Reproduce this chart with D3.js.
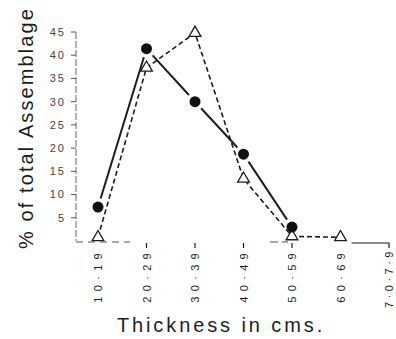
<!DOCTYPE html>
<html>
<head>
<meta charset="utf-8">
<script src="https://cdn.jsdelivr.net/npm/d3@7"></script>
<style>
  body { margin: 0; background: #fff; }
  text { font-family: "Liberation Sans", Arial, sans-serif; fill: #1b1f1b; }
</style>
</head>
<body>
<div id="chart"></div>
<script>
// thickness classes (cms)
const categories = ['10·19', '20·29', '30·39', '40·49', '50·59', '60·69', '7·0·7·9'];
// solid line, filled circles
const seriesSolid = [
  {cat: '10·19', value: 7.3},
  {cat: '20·29', value: 41.4},
  {cat: '30·39', value: 30},
  {cat: '40·49', value: 18.7},
  {cat: '50·59', value: 3}
];
// dashed line, open triangles
const seriesDashed = [
  {cat: '10·19', value: 0.8},
  {cat: '20·29', value: 37.3},
  {cat: '30·39', value: 44.8},
  {cat: '40·49', value: 13.4},
  {cat: '50·59', value: 1},
  {cat: '60·69', value: 0.8}
];
const yTicks = [5, 10, 15, 20, 25, 30, 35, 40, 45];

const width = 396, height = 339;
const ink = '#1b1f1b';

const svg = d3.select('#chart').append('svg')
  .attr('width', width)
  .attr('height', height);

const x = d3.scalePoint().domain(categories).range([98, 389]);
const y = d3.scaleLinear().domain([0, 45]).range([241, 32]);

// y axis (faint and broken like the original)
svg.append('line')
  .attr('x1', 76).attr('x2', 76)
  .attr('y1', y(45)).attr('y2', y(0))
  .attr('stroke', '#666').attr('stroke-width', 1)
  .attr('stroke-dasharray', '7,2');

const yAxis = svg.append('g');
yAxis.selectAll('line')
  .data(yTicks)
  .enter().append('line')
  .attr('x1', 71).attr('x2', 76)
  .attr('y1', d => y(d)).attr('y2', d => y(d))
  .attr('stroke', '#555').attr('stroke-width', 1);
yAxis.selectAll('text')
  .data(yTicks)
  .enter().append('text')
  .attr('x', 66)
  .attr('y', d => y(d))
  .attr('dy', '0.35em')
  .attr('text-anchor', 'end')
  .style('font-size', '11px')
  .style('letter-spacing', '2px')
  .style('fill', '#444')
  .text(d => d);

// x baseline: only partly visible in the original
svg.append('line')
  .attr('x1', 76).attr('x2', 130)
  .attr('y1', y(0) + 1).attr('y2', y(0) + 1)
  .attr('stroke', '#555').attr('stroke-width', 1)
  .attr('stroke-dasharray', '7,5');
svg.append('line')
  .attr('x1', 270).attr('x2', 288)
  .attr('y1', y(0) + 1).attr('y2', y(0) + 1)
  .attr('stroke', '#555').attr('stroke-width', 1)
  .attr('stroke-dasharray', '8,4');
svg.append('path')
  .attr('d', 'M' + (x('60·69') + 11) + ',' + (y(0) + 2) + 'H' + x('7·0·7·9') + 'v5')
  .attr('fill', 'none')
  .attr('stroke', ink).attr('stroke-width', 1.2);

// x ticks + rotated labels
const xAxis = svg.append('g');
xAxis.selectAll('line')
  .data(categories.slice(1, 5))
  .enter().append('line')
  .attr('x1', d => x(d)).attr('x2', d => x(d))
  .attr('y1', 243).attr('y2', 248)
  .attr('stroke', ink).attr('stroke-width', 1.2);
xAxis.selectAll('text')
  .data(categories)
  .enter().append('text')
  .attr('transform', d => 'translate(' + (x(d) + 4) + ',' + 248 + ') rotate(-90)')
  .attr('text-anchor', 'end')
  .style('font-size', '11px')
  .style('letter-spacing', d => d.length > 5 ? '3.5px' : '5.3px')
  .text(d => d);

// dashed series
const line = d3.line()
  .x(d => x(d.cat))
  .y(d => y(d.value));

svg.append('path')
  .datum(seriesDashed)
  .attr('d', line)
  .attr('fill', 'none')
  .attr('stroke', ink)
  .attr('stroke-width', 1.6)
  .attr('stroke-dasharray', '5,3');

// solid series, segments pulled back from the dots
const gap = 9;
for (let i = 0; i < seriesSolid.length - 1; i++) {
  const x1 = x(seriesSolid[i].cat), y1 = y(seriesSolid[i].value);
  const x2 = x(seriesSolid[i + 1].cat), y2 = y(seriesSolid[i + 1].value);
  const len = Math.hypot(x2 - x1, y2 - y1);
  const ux = (x2 - x1) / len, uy = (y2 - y1) / len;
  svg.append('line')
    .attr('x1', x1 + ux * gap).attr('y1', y1 + uy * gap)
    .attr('x2', x2 - ux * gap).attr('y2', y2 - uy * gap)
    .attr('stroke', ink)
    .attr('stroke-width', 2);
}

// triangles
const tri = d3.symbol().type(d3.symbolTriangle).size(60);
svg.selectAll('path.tri')
  .data(seriesDashed)
  .enter().append('path')
  .attr('class', 'tri')
  .attr('d', tri)
  .attr('transform', d => 'translate(' + x(d.cat) + ',' + y(d.value) + ')')
  .attr('fill', '#fff')
  .attr('stroke', ink)
  .attr('stroke-width', 1.3);

// dots
svg.selectAll('circle.dot')
  .data(seriesSolid)
  .enter().append('circle')
  .attr('class', 'dot')
  .attr('cx', d => x(d.cat))
  .attr('cy', d => y(d.value))
  .attr('r', 5.5)
  .attr('fill', '#111');

// axis titles
svg.append('text')
  .attr('transform', 'translate(33,128) rotate(-90)')
  .attr('text-anchor', 'middle')
  .style('font-size', '20px')
  .style('letter-spacing', '2.1px')
  .text('% of total Assemblage');

svg.append('text')
  .attr('x', 221)
  .attr('y', 332)
  .attr('text-anchor', 'middle')
  .style('font-size', '20px')
  .style('letter-spacing', '2.9px')
  .text('Thickness in cms.');
</script>
</body>
</html>
